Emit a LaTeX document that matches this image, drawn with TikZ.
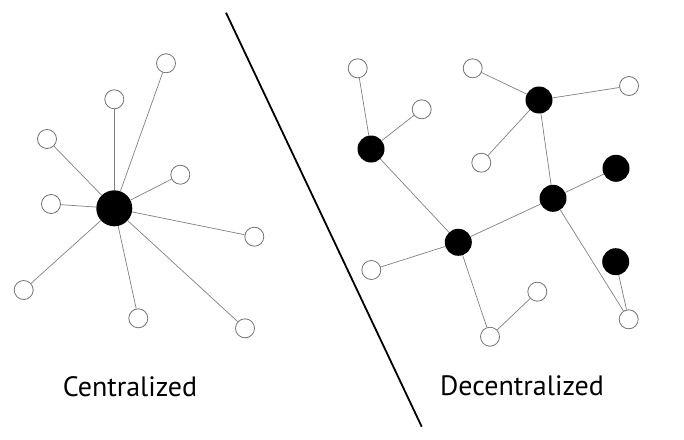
\documentclass[tikz,border=0pt]{standalone}
\usepackage{fontspec}
\setmainfont{PT Sans}
\begin{document}
\begin{tikzpicture}[x=1pt,y=-1pt,
  leaf/.style={circle,draw=black!55,fill=white,line width=0.8pt,minimum size=19pt,inner sep=0pt},
  hub/.style={circle,fill=black,minimum size=36pt,inner sep=0pt},
  dhub/.style={circle,fill=black,minimum size=27pt,inner sep=0pt},
  link/.style={draw=black!50,line width=0.7pt},
  lbl/.style={font=\fontsize{28}{31}\selectfont,anchor=base,inner sep=0pt}]
\useasboundingbox (0,0) rectangle (684,439);
% centralized
\node[hub] (c) at (114.3,208.3) {};
\node[leaf] (c1) at (166,63.3) {};
\node[leaf] (c2) at (114.3,99.3) {};
\node[leaf] (c3) at (47,139) {};
\node[leaf] (c4) at (180.3,174.7) {};
\node[leaf] (c5) at (51,204) {};
\node[leaf] (c6) at (254.3,236.7) {};
\node[leaf] (c7) at (23.7,290) {};
\node[leaf] (c8) at (138.3,318.3) {};
\node[leaf] (c9) at (245,328.3) {};
\foreach \i in {1,...,9} \draw[link] (c) -- (c\i);
% decentralized
\node[dhub] (b1) at (371,149) {};
\node[dhub] (b2) at (539,100) {};
\node[dhub] (b3) at (553,198.3) {};
\node[dhub] (b4) at (616,168.3) {};
\node[dhub] (b5) at (458.3,242.3) {};
\node[dhub] (b6) at (615.7,261.7) {};
\node[leaf] (w1) at (357.7,68.3) {};
\node[leaf] (w2) at (421.7,109.3) {};
\node[leaf] (w3) at (472.7,68.3) {};
\node[leaf] (w4) at (629,86) {};
\node[leaf] (w5) at (481.3,162.7) {};
\node[leaf] (w6) at (371.3,270) {};
\node[leaf] (w7) at (537.3,291.7) {};
\node[leaf] (w8) at (490,336.7) {};
\node[leaf] (w9) at (628.7,319.3) {};
\draw[link] (w1) -- (b1);
\draw[link] (w2) -- (b1);
\draw[link] (b1) -- (b5);
\draw[link] (b5) -- (w6);
\draw[link] (b5) -- (w8);
\draw[link] (w8) -- (w7);
\draw[link] (b5) -- (b3);
\draw[link] (b3) -- (b4);
\draw[link] (b3) -- (b2);
\draw[link] (b2) -- (w3);
\draw[link] (b2) -- (w4);
\draw[link] (b2) -- (w5);
\draw[link] (b3) -- (w9);
\draw[link] (w9) -- (b6);
% divider
\coordinate (dtop) at (226,12.7);
\coordinate (dbot) at (421.7,426.7);
\draw[line width=1.8pt] (dtop) -- (dbot);
% labels
\node[lbl] (t1) at (130,396) {Centralized};
\node[lbl] (t2) at (522,395) {Decentralized};
\end{tikzpicture}
\end{document}
